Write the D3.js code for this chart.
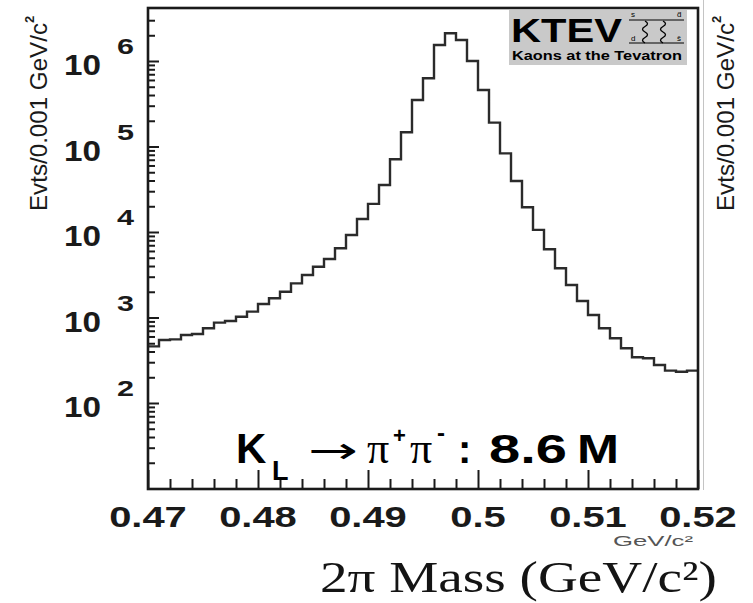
<!DOCTYPE html>
<html>
<head>
<meta charset="utf-8">
<script src="https://cdn.jsdelivr.net/npm/d3@7/dist/d3.min.js"></script>
<style>
body { margin: 0; background: #fff; }
svg { display: block; }
</style>
</head>
<body>
<svg id="chart" width="753" height="603"></svg>
<script>
// histogram: 0.001 GeV/c2 bins from 0.470 to 0.520
var binStart = 0.470;
var binWidth = 0.001;
var counts = [
	460, 545, 555, 625, 640, 750, 870, 910, 1020, 1170,
	1440, 1680, 2000, 2510, 3140, 3930, 4840, 6450, 9230, 14200,
	21300, 35500, 70900, 146600, 350000, 628000, 1540000, 2110000, 1760000, 1000000,
	458000, 190000, 83200, 39500, 19500, 10600, 6280, 3760, 2400, 1560,
	1070, 748, 572, 437, 343, 334, 278, 239, 232, 239
];

var xTicks = [0.47, 0.48, 0.49, 0.50, 0.51, 0.52];
var xTickLabels = ["0.47", "0.48", "0.49", "0.5", "0.51", "0.52"];
var yDecades = [2, 3, 4, 5, 6];

var boxLeft = 148, boxRight = 698, boxTop = 8, boxBottom = 489;
var ink = "#1a1a1a";
var sans = "Liberation Sans, Arial, Helvetica, sans-serif";
var serif = "Liberation Serif, Times New Roman, serif";

var x = d3.scaleLinear().domain([0.47, 0.52]).range([boxLeft, boxRight]);
var y = d3.scaleLog().domain([1e2, 1e6]).range([403, 61]);

var svg = d3.select("#chart");

// ---- histogram outline
var edges = counts.map((c, i) => binStart + i * binWidth);
var pts = counts.map((c, i) => [edges[i], c]);
pts.push([binStart + counts.length * binWidth, counts[counts.length - 1]]);

var line = d3.line()
	.x(d => x(d[0]))
	.y(d => y(d[1]))
	.curve(d3.curveStepAfter);

svg.append("path")
	.datum(pts)
	.attr("d", line)
	.attr("fill", "none")
	.attr("stroke", "#2b2b2b")
	.attr("stroke-width", 2.4);

// ---- x ticks (inside, pointing up)
var xMinor = d3.range(0.47, 0.5201, 0.002).filter(v => !xTicks.some(t => Math.abs(t - v) < 1e-6));

function styleAxis(g) {
	g.select(".domain").remove();
	g.selectAll("line").attr("stroke", ink).attr("stroke-width", 2);
	g.selectAll("text").remove();
}

svg.append("g")
	.attr("transform", "translate(0," + boxBottom + ")")
	.call(d3.axisTop(x).tickValues(xMinor).tickSize(10).tickFormat(""))
	.call(styleAxis);
svg.append("g")
	.attr("transform", "translate(0," + boxBottom + ")")
	.call(d3.axisTop(x).tickValues(xTicks).tickSize(19).tickFormat(""))
	.call(styleAxis);

// ---- y ticks (inside, pointing right)
var yMinor = [];
[1, 2, 3, 4, 5, 6].forEach(function(p) {
	for (var k = 2; k <= 9; k++) {
		var v = k * Math.pow(10, p);
		if (y(v) > boxTop + 2 && y(v) < boxBottom - 2) yMinor.push(v);
	}
});
svg.append("g")
	.attr("transform", "translate(" + boxLeft + ",0)")
	.call(d3.axisRight(y).tickValues(yMinor).tickSize(7).tickFormat(""))
	.call(styleAxis);
svg.append("g")
	.attr("transform", "translate(" + boxLeft + ",0)")
	.call(d3.axisRight(y).tickValues(yDecades.map(p => Math.pow(10, p))).tickSize(11).tickFormat(""))
	.call(styleAxis);

// ---- frame
svg.append("rect")
	.attr("x", boxLeft).attr("y", boxTop)
	.attr("width", boxRight - boxLeft).attr("height", boxBottom - boxTop)
	.attr("fill", "none").attr("stroke", ink).attr("stroke-width", 2.6);

svg.append("line")
	.attr("x1", 703.5).attr("x2", 703.5).attr("y1", 0).attr("y2", 490)
	.attr("stroke", "#c4c4c4").attr("stroke-width", 1);

// ---- x tick labels (wide bold)
svg.append("g").selectAll("text")
	.data(xTicks)
	.join("text")
	.attr("x", d => x(d))
	.attr("y", 527)
	.attr("text-anchor", "middle")
	.attr("font-family", sans)
	.attr("font-weight", "bold")
	.attr("font-size", 30)
	.attr("fill", ink)
	.text((d, i) => xTickLabels[i])
	.each(function() {
		var w = this.getComputedTextLength();
		d3.select(this).attr("textLength", w * 1.33).attr("lengthAdjust", "spacingAndGlyphs");
	});

// ---- y tick labels: 10^n
var yLab = svg.append("g").selectAll("g")
	.data(yDecades)
	.join("g");
yLab.append("text")
	.attr("x", 64).attr("y", d => y(Math.pow(10, d)) + 14)
	.attr("font-family", sans).attr("font-weight", "bold").attr("font-size", 30)
	.attr("textLength", 37).attr("lengthAdjust", "spacingAndGlyphs")
	.attr("fill", ink)
	.text("10");
yLab.append("text")
	.attr("x", 117).attr("y", d => y(Math.pow(10, d)) - 7)
	.attr("font-family", sans).attr("font-weight", "bold").attr("font-size", 22)
	.attr("textLength", 17).attr("lengthAdjust", "spacingAndGlyphs")
	.attr("fill", ink)
	.text(d => d);

// ---- y axis titles (left and right)
[47, 734].forEach(function(bx) {
	var t = svg.append("text")
		.attr("transform", "translate(" + bx + ",211) rotate(-90)")
		.attr("font-family", sans).attr("font-size", 24)
		.attr("fill", ink);
	t.append("tspan").text("Evts/0.001  GeV/c")
		.attr("textLength", 188).attr("lengthAdjust", "spacingAndGlyphs");
	t.append("tspan").text("2").attr("font-size", 13).attr("font-weight", "bold").attr("dy", -13);
});

// ---- KTEV logo
var logo = svg.append("g");
logo.append("rect")
	.attr("x", 509).attr("y", 10).attr("width", 178).attr("height", 55)
	.attr("fill", "#c9c9c9");
logo.append("text")
	.attr("x", 511).attr("y", 42)
	.attr("font-family", sans).attr("font-weight", "bold").attr("font-size", 34)
	.attr("textLength", 111).attr("lengthAdjust", "spacingAndGlyphs")
	.attr("fill", "#000")
	.text("KTEV");
logo.append("text")
	.attr("x", 512).attr("y", 60)
	.attr("font-family", sans).attr("font-weight", "bold").attr("font-size", 12)
	.attr("textLength", 170).attr("lengthAdjust", "spacingAndGlyphs")
	.attr("fill", "#000")
	.text("Kaons at the Tevatron");
// small box diagram
[20, 43].forEach(function(ly) {
	logo.append("line").attr("x1", 629).attr("x2", 684).attr("y1", ly).attr("y2", ly)
		.attr("stroke", "#000").attr("stroke-width", 1.2);
});
[645, 663].forEach(function(gx) {
	var p = d3.path();
	p.moveTo(gx, 21);
	for (var i = 0; i < 4; i++) {
		var yy = 21 + i * 5.5;
		p.quadraticCurveTo(gx + (i % 2 ? -5 : 5), yy + 2.75, gx, yy + 5.5);
	}
	logo.append("path").attr("d", p.toString())
		.attr("fill", "none").attr("stroke", "#000").attr("stroke-width", 1.3);
});
[[631, 17, "s"], [677, 17, "d\u0304"], [631, 41, "d"], [677, 41, "s\u0304"]].forEach(function(l) {
	logo.append("text").attr("x", l[0]).attr("y", l[1])
		.attr("font-family", sans).attr("font-size", 8).attr("fill", "#000").text(l[2]);
});

// ---- decay label
var lab = svg.append("text").attr("font-family", sans).attr("fill", "#000");
lab.append("tspan").attr("x", 236).attr("y", 463)
	.attr("font-weight", "bold").attr("font-size", 42).text("K");
lab.append("tspan").attr("x", 272).attr("y", 480)
	.attr("font-weight", "bold").attr("font-size", 27).text("L");
lab.append("tspan").attr("x", 308).attr("y", 463)
	.attr("font-family", "DejaVu Sans, sans-serif").attr("font-size", 36)
	.attr("textLength", 50).attr("lengthAdjust", "spacingAndGlyphs").text("\u2192");
lab.append("tspan").attr("x", 367).attr("y", 463)
	.attr("font-family", serif).attr("font-size", 44).text("\u03c0");
lab.append("tspan").attr("x", 393).attr("y", 443)
	.attr("font-weight", "bold").attr("font-size", 22).text("+");
lab.append("tspan").attr("x", 410).attr("y", 463)
	.attr("font-family", serif).attr("font-size", 44).text("\u03c0");
lab.append("tspan").attr("x", 437).attr("y", 441)
	.attr("font-weight", "bold").attr("font-size", 24).text("-");
lab.append("tspan").attr("x", 458).attr("y", 463)
	.attr("font-weight", "bold").attr("font-size", 40).text(":");
lab.append("tspan").attr("x", 489).attr("y", 463)
	.attr("font-weight", "bold").attr("font-size", 40)
	.attr("textLength", 78).attr("lengthAdjust", "spacingAndGlyphs").text("8.6");
lab.append("tspan").attr("x", 577).attr("y", 463)
	.attr("font-weight", "bold").attr("font-size", 40)
	.attr("textLength", 42).attr("lengthAdjust", "spacingAndGlyphs").text("M");

// small unit under the axis end
svg.append("text")
	.attr("x", 613).attr("y", 546)
	.attr("font-family", sans).attr("font-size", 14).attr("fill", "#555")
	.attr("textLength", 80).attr("lengthAdjust", "spacingAndGlyphs")
	.text("GeV/c\u00b2");

// ---- overlay axis title
svg.append("text")
	.attr("x", 320).attr("y", 592)
	.attr("font-family", serif)
	.attr("font-size", 44)
	.attr("textLength", 397).attr("lengthAdjust", "spacingAndGlyphs")
	.attr("fill", "#141414")
	.text("2\u03c0 Mass (GeV/c\u00b2)");
</script>
</body>
</html>
